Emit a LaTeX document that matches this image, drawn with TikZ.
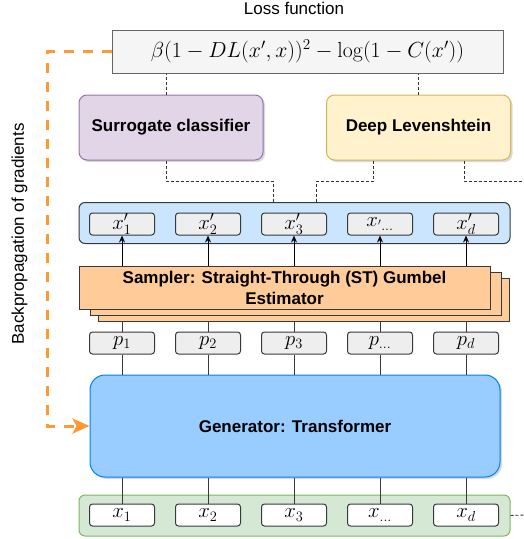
\documentclass[tikz,border=0pt]{standalone}
\usepackage[no-math]{fontspec}
\setmainfont{Liberation Sans}
\usetikzlibrary{positioning,shadows,arrows.meta}

\definecolor{edgegray}{HTML}{36393D}
\definecolor{tokgray}{HTML}{EEEEEE}
\definecolor{lossfill}{HTML}{F5F5F5}
\definecolor{lossedge}{HTML}{666666}
\definecolor{surrfill}{HTML}{E1D5E7}
\definecolor{surredge}{HTML}{9673A6}
\definecolor{dlfill}{HTML}{FFF2CC}
\definecolor{dledge}{HTML}{D6B656}
\definecolor{rowblue}{HTML}{CCE5FF}
\definecolor{sampfill}{HTML}{FFCC99}
\definecolor{genfill}{HTML}{99CCFF}
\definecolor{genedge}{HTML}{007FFF}
\definecolor{rowgreen}{HTML}{D5E8D4}
\definecolor{greenedge}{HTML}{82B366}
\definecolor{backorange}{HTML}{FF9933}

\begin{document}
\begin{tikzpicture}[x=1pt, y=-1pt, node distance=86pt, on grid, line width=1pt,
	tok/.style={draw=edgegray, fill=tokgray, rounded corners=3pt, minimum width=65pt, minimum height=22pt, inner sep=0pt, font=\fontsize{20}{20}\selectfont},
	row/.style={draw=edgegray, rounded corners=6pt, minimum width=431pt, minimum height=41pt},
	model/.style={draw, rounded corners=8pt, minimum width=184pt, minimum height=65pt, font=\fontsize{17}{21}\selectfont\bfseries, drop shadow={shadow xshift=2pt, shadow yshift=-2pt, opacity=0.3}},
	stackbox/.style={draw=edgegray, fill=sampfill, minimum width=411pt, minimum height=43pt},
	dots/.style={draw=black!80, line width=0.9pt, dash pattern=on 3pt off 2pt},
	backprop/.style={draw=backorange, line width=3pt, dash pattern=on 10pt off 9pt}]
	\useasboundingbox (0,0) rectangle (524,539);
	
	% loss and the two scorers
	\node[font=\fontsize{17}{20}\selectfont] (title) at (294,8) {Loss function};
	\node[draw=lossedge, fill=lossfill, minimum width=391pt, minimum height=43pt, font=\fontsize{20}{24}\selectfont] (loss) at (307.5,51.5) {\scalebox{1.05}{$\beta(1-DL(x',x))^2-\log(1-C(x'))$}};
	\node[model, fill=surrfill, draw=surredge] (surr) at (171,127.5) {Surrogate classifier};
	\node[model, fill=dlfill, draw=dledge] (dl) at (418.5,127.5) {Deep Levenshtein};
	
	% sampled tokens
	\node[row, fill=rowblue] (xprow) at (294.5,223) {};
	\node[tok] (xp1) at (122,224) {$x'_1$};
	\node[tok] (xp2) [right=of xp1] {$x'_2$};
	\node[tok] (xp3) [right=of xp2] {$x'_3$};
	\node[tok] (xp4) [right=of xp3] {$x_{'\ldots}$};
	\node[tok] (xp5) [right=of xp4] {$x'_d$};
	
	% probabilities
	\node[tok] (p1) at (122,343) {$p_1$};
	\node[tok] (p2) [right=of p1] {$p_2$};
	\node[tok] (p3) [right=of p2] {$p_3$};
	\node[tok] (p4) [right=of p3] {$p_{\ldots}$};
	\node[tok] (p5) [right=of p4] {$p_d$};
	
	% generator and inputs
	\node[model, fill=genfill, draw=genedge, rounded corners=15pt, minimum width=410pt, minimum height=102pt] (gen) at (295,426) {Generator: Transformer};
	\node[row, fill=rowgreen, draw=greenedge] (xrow) at (294.5,515.5) {};
	\node[tok, fill=white] (x1) at (122,515) {$x_1$};
	\node[tok, fill=white] (x2) [right=of x1] {$x_2$};
	\node[tok, fill=white] (x3) [right=of x2] {$x_3$};
	\node[tok, fill=white] (x4) [right=of x3] {$x_{\ldots}$};
	\node[tok, fill=white] (x5) [right=of x4] {$x_d$};
	
	\draw[edgegray] (p1.north) -- (p1 |- 0,309);
	\draw[edgegray] (p2.north) -- (p2 |- 0,309);
	\draw[edgegray] (p3.north) -- (p3 |- 0,309);
	\draw[edgegray] (p4.north) -- (p4 |- 0,309);
	\draw[edgegray] (p5.north) -- (p5 |- 0,309);
	
	% sampler stack
	\node[stackbox] (samp3) at (303.5,299.5) {};
	\node[stackbox] (samp2) at (296,294) {};
	\node[stackbox, align=center, font=\fontsize{17}{21}\selectfont\bfseries] (samp) at (284.5,287.5) {Sampler: Straight-Through (ST) Gumbel\\Estimator};
	
	\draw[-{Stealth[length=7pt,width=6pt]}] (xp1 |- samp.north) -- (xp1.south);
	\draw[-{Stealth[length=7pt,width=6pt]}] (xp2 |- samp.north) -- (xp2.south);
	\draw[-{Stealth[length=7pt,width=6pt]}] (xp3 |- samp.north) -- (xp3.south);
	\draw[-{Stealth[length=7pt,width=6pt]}] (xp4 |- samp.north) -- (xp4.south);
	\draw[-{Stealth[length=7pt,width=6pt]}] (xp5 |- samp.north) -- (xp5.south);
	
	\draw[edgegray] (p1.south) -- (p1 |- gen.north);
	\draw[edgegray] (p2.south) -- (p2 |- gen.north);
	\draw[edgegray] (p3.south) -- (p3 |- gen.north);
	\draw[edgegray] (p4.south) -- (p4 |- gen.north);
	\draw[edgegray] (p5.south) -- (p5 |- gen.north);
	
	\draw[edgegray] (x1.north) -- (x1 |- gen.south);
	\draw[edgegray] (x2.north) -- (x2 |- gen.south);
	\draw[edgegray] (x3.north) -- (x3 |- gen.south);
	\draw[edgegray] (x4.north) -- (x4 |- gen.south);
	\draw[edgegray] (x5.north) -- (x5 |- gen.south);
	
	% dotted links to the loss
	\coordinate (j1) at (273,181);
	\coordinate (j2) at (316,181);
	\coordinate (j3) at (524,181);
	\coordinate (j4) at (524,515);
	\draw[dots] ([xshift=-5pt]surr.north) -- ([xshift=-5pt]surr.north |- loss.south);
	\draw[dots] (dl.north) -- (dl.north |- loss.south);
	\draw[dots] ([xshift=-5pt]surr.south) |- (j1) -- (j1 |- xprow.north);
	\draw[dots] ([xshift=-45.5pt]dl.south) |- (j2) -- (j2 |- xprow.north);
	\draw[dots] ([xshift=45.5pt]dl.south) |- (j3);
	\draw[dots] (xrow.east) -- (j4);
	
	% backpropagation
	\coordinate (bp) at (47,426);
	\draw[backprop, -{Stealth[length=17pt,width=15pt,inset=4pt]}] (loss.west) -| (bp) -- (gen.west);
	\node[rotate=90, font=\fontsize{17}{20}\selectfont] (bplabel) at (19.5,234) {Backpropagation of gradients};
	
\end{tikzpicture}
\end{document}
